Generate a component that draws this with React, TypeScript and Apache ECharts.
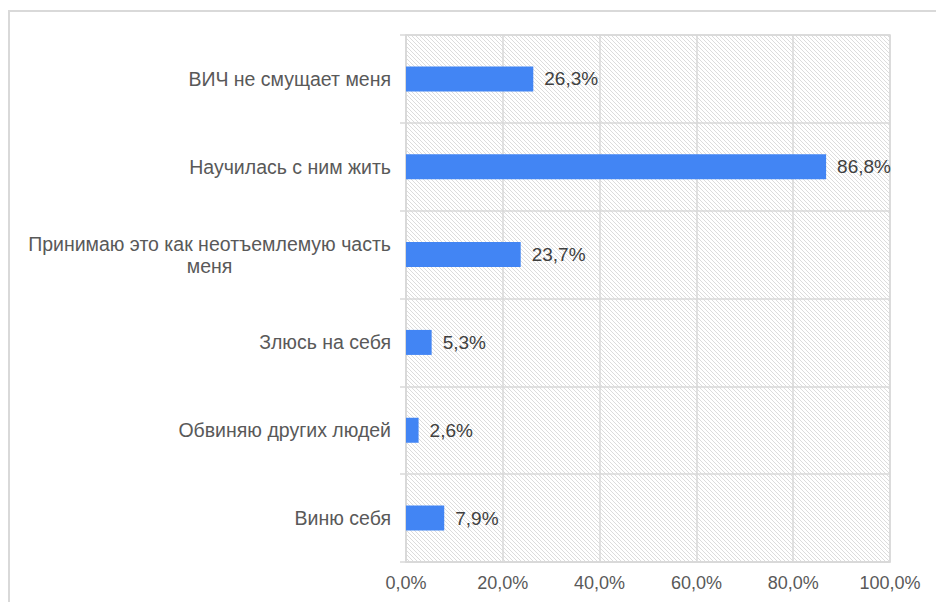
import React, { useEffect, useRef } from "react";
import * as echarts from "echarts";

const categories = [
  "ВИЧ не смущает меня",
  "Научилась с ним жить",
  "Принимаю это как неотъемлемую часть\nменя",
  "Злюсь на себя",
  "Обвиняю других людей",
  "Виню себя",
];
const values = [26.3, 86.8, 23.7, 5.3, 2.6, 7.9];
const xTicks = [0, 20, 40, 60, 80, 100];

function makeHatch(): string {
  const c = document.createElement("canvas");
  c.width = 4;
  c.height = 4;
  const ctx = c.getContext("2d")!;
  ctx.fillStyle = "#ffffff";
  ctx.fillRect(0, 0, 4, 4);
  ctx.fillStyle = "#dcdcdc";
  for (let i = 0; i < 4; i++) ctx.fillRect(i, i, 1, 1);
  return c.toDataURL();
}

const fmt = (v: number) => v.toFixed(1).replace(".", ",") + "%";

export default function App() {
  const ref = useRef<HTMLDivElement>(null);
  useEffect(() => {
    if (!ref.current) return;
    const chart = echarts.init(ref.current, null, { renderer: "svg" });
    const hatch = makeHatch();
    chart.setOption({
      animation: false,
      backgroundColor: "#ffffff",
      textStyle: { fontFamily: "Liberation Sans, Arial, sans-serif" },
      graphic: [
        {
          type: "rect",
          shape: { x: 9, y: 11, width: 1200, height: 1000 },
          style: { fill: "none", stroke: "#d9d9d9", lineWidth: 2 },
          silent: true,
          z: -10,
        },
      ],
      grid: {
        left: 406,
        right: 46,
        top: 35,
        bottom: 40,
        show: true,
        backgroundColor: {
          image: hatch,
          repeat: "repeat",
          imageWidth: 4,
          imageHeight: 4,
        },
        borderColor: "#d9d9d9",
        borderWidth: 1.5,
      },
      xAxis: {
        type: "value",
        min: 0,
        max: 100,
        interval: 20,
        axisLine: { show: true, lineStyle: { color: "#d9d9d9", width: 1.5 } },
        axisTick: { show: false },
        splitLine: { show: true, lineStyle: { color: "#d9d9d9", width: 1.5 } },
        axisLabel: {
          color: "#595959",
          fontSize: 18,
          margin: 12,
          formatter: (v: number) => (xTicks.includes(v) ? fmt(v) : ""),
        },
      },
      yAxis: {
        type: "category",
        inverse: true,
        data: categories,
        axisLine: { show: true, lineStyle: { color: "#d9d9d9", width: 1.5 } },
        axisTick: { show: true, length: 6, lineStyle: { color: "#d9d9d9", width: 1.5 } },
        splitLine: { show: true, lineStyle: { color: "#d9d9d9", width: 1.5 } },
        axisLabel: {
          color: "#595959",
          fontSize: 19.5,
          margin: 15,
          lineHeight: 22,
          formatter: (v: string) => {
            const parts = v.split("\n");
            if (parts.length > 1) {
              return parts.map((p) => "{c|" + p + "}").join("\n");
            }
            return v;
          },
          rich: {
            c: { align: "center", color: "#595959", fontSize: 19.5, lineHeight: 22 },
          },
        },
      },
      series: [
        {
          type: "bar",
          data: values,
          barWidth: 25,
          itemStyle: { color: "#4285f4" },
          label: {
            show: true,
            position: "right",
            distance: 11,
            color: "#404040",
            fontSize: 19,
            formatter: (p: any) => fmt(p.value),
          },
        },
      ],
    });
    return () => chart.dispose();
  }, []);
  return (
    <div
      ref={ref}
      style={{ position: "absolute", left: 0, top: 0, width: 936, height: 602 }}
    />
  );
}
